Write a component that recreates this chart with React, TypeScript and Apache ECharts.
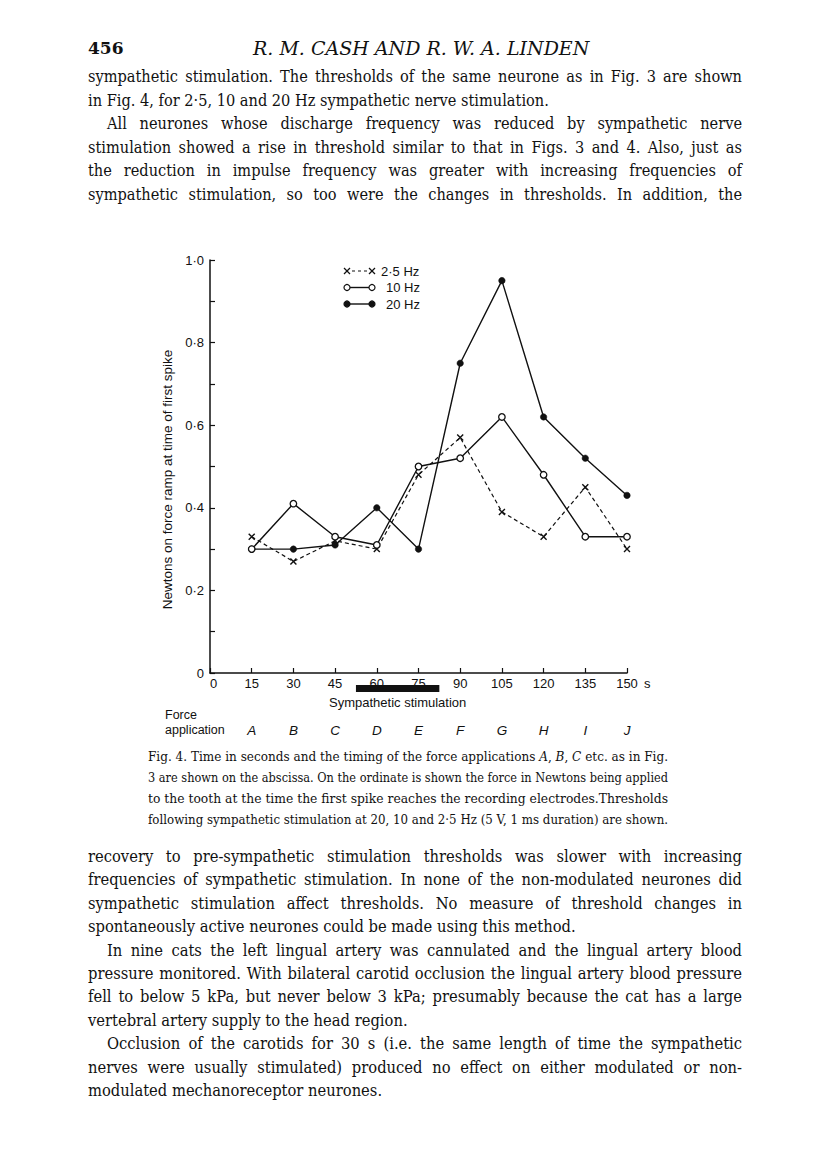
import React, { useEffect, useLayoutEffect, useRef } from 'react';
import * as echarts from 'echarts';

// ---------- chart data ----------
const timeTicks = [15, 30, 45, 60, 75, 90, 105, 120, 135, 150];
const forceApplications = ['A', 'B', 'C', 'D', 'E', 'F', 'G', 'H', 'I', 'J'];
const seriesNames = ['2·5 Hz', '10 Hz', '20 Hz'];
const thresholds2_5Hz = [0.33, 0.27, 0.32, 0.3, 0.48, 0.57, 0.39, 0.33, 0.45, 0.3];
const thresholds10Hz = [0.3, 0.41, 0.33, 0.31, 0.5, 0.52, 0.62, 0.48, 0.33, 0.33];
const thresholds20Hz = [0.3, 0.3, 0.31, 0.4, 0.3, 0.75, 0.95, 0.62, 0.52, 0.43];
const yTickValues = [0, 0.2, 0.4, 0.6, 0.8, 1.0];
const yTickLabels = ['0', '0·2', '0·4', '0·6', '0·8', '1·0'];
const stimulationPeriod = [52.5, 82.5];
const stimulationLabel = 'Sympathetic stimulation';
const yAxisTitle = 'Newtons on force ramp at time of first spike';
const xAxisUnit = 's';
const forceLabelLines = ['Force', 'application'];

// ---------- page text ----------
const pageNumber = '456';
const runningHead = 'R. M. CASH AND R. W. A. LINDEN';
const topParagraphs = [
  {
    indent: false,
    ends: true,
    lines: [
      'sympathetic stimulation. The thresholds of the same neurone as in Fig. 3 are shown',
      'in Fig. 4, for 2·5, 10 and 20 Hz sympathetic nerve stimulation.',
    ],
  },
  {
    indent: true,
    ends: false,
    lines: [
      'All neurones whose discharge frequency was reduced by sympathetic nerve',
      'stimulation showed a rise in threshold similar to that in Figs. 3 and 4. Also, just as',
      'the reduction in impulse frequency was greater with increasing frequencies of',
      'sympathetic stimulation, so too were the changes in thresholds. In addition, the',
    ],
  },
];
const captionLines = [
  'Fig. 4. Time in seconds and the timing of the force applications *A*, *B*, *C* etc. as in Fig.',
  '3 are shown on the abscissa. On the ordinate is shown the force in Newtons being applied',
  'to the tooth at the time the first spike reaches the recording electrodes.Thresholds',
  'following sympathetic stimulation at 20, 10 and 2·5 Hz (5 V, 1 ms duration) are shown.',
];
const bottomParagraphs = [
  {
    indent: false,
    ends: true,
    lines: [
      'recovery to pre-sympathetic stimulation thresholds was slower with increasing',
      'frequencies of sympathetic stimulation. In none of the non-modulated neurones did',
      'sympathetic stimulation affect thresholds. No measure of threshold changes in',
      'spontaneously active neurones could be made using this method.',
    ],
  },
  {
    indent: true,
    ends: true,
    lines: [
      'In nine cats the left lingual artery was cannulated and the lingual artery blood',
      'pressure monitored. With bilateral carotid occlusion the lingual artery blood pressure',
      'fell to below 5 kPa, but never below 3 kPa; presumably because the cat has a large',
      'vertebral artery supply to the head region.',
    ],
  },
  {
    indent: true,
    ends: true,
    lines: [
      'Occlusion of the carotids for 30 s (i.e. the same length of time the sympathetic',
      'nerves were usually stimulated) produced no effect on either modulated or non-',
      'modulated mechanoreceptor neurones.',
    ],
  },
];

const INK = '#111';
const SANS = '"Liberation Sans", Arial, Helvetica, sans-serif';
const SERIF = '"DejaVu Serif", "Liberation Serif", serif';

function renderSegments(text: string) {
  const parts = text.split('*');
  return parts.map((p, i) =>
    i % 2 === 1 ? (
      <i key={i}>{p}</i>
    ) : (
      <React.Fragment key={i}>{p}</React.Fragment>
    )
  );
}

function FitLine(props: {
  text: string;
  left: number;
  centerY: number;
  width: number;
  justify: boolean;
  fontSize: number;
  lineHeight: number;
  fontFamily?: string;
  italic?: boolean;
  bold?: boolean;
  condense?: number;
}) {
  const ref = useRef<HTMLSpanElement>(null);
  useLayoutEffect(() => {
    const el = ref.current;
    if (!el) return;
    el.style.wordSpacing = '0px';
    el.style.transform = 'none';
    const w = el.getBoundingClientRect().width;
    const spaces = ((el.textContent || '').match(/ /g) || []).length;
    const c = props.condense || 1;
    if (w * c >= props.width) {
      el.style.transform = `scaleX(${props.width / w})`;
    } else {
      el.style.transform = `scaleX(${c})`;
      if (props.justify && spaces > 0) {
        el.style.wordSpacing = `${(props.width - w * c) / (c * spaces)}px`;
      }
    }
  }, [props.text, props.width, props.justify]);
  return (
    <div
      style={{
        position: 'absolute',
        left: props.left,
        top: props.centerY - props.lineHeight / 2,
        width: props.width,
        height: props.lineHeight,
        lineHeight: `${props.lineHeight}px`,
        whiteSpace: 'nowrap',
        fontFamily: props.fontFamily || SERIF,
        fontSize: props.fontSize,
        fontStyle: props.italic ? 'italic' : 'normal',
        fontWeight: props.bold ? 'bold' : 'normal',
        color: INK,
      }}
    >
      <span ref={ref} style={{ display: 'inline-block', transformOrigin: '0 50%' }}>
        {renderSegments(props.text)}
      </span>
    </div>
  );
}

function TextBlock(props: {
  paragraphs: { indent: boolean; ends: boolean; lines: string[] }[];
  left: number;
  width: number;
  firstY: number;
  step: number;
  fontSize: number;
  indent: number;
  condense: number;
}) {
  const out: React.ReactNode[] = [];
  let k = 0;
  props.paragraphs.forEach((para, pi) => {
    para.lines.forEach((line, li) => {
      const isFirst = li === 0;
      const isLast = li === para.lines.length - 1;
      const ind = isFirst && para.indent ? props.indent : 0;
      out.push(
        <FitLine
          key={`${pi}-${li}`}
          text={line}
          left={props.left + ind}
          centerY={props.firstY + k * props.step}
          width={props.width - ind}
          justify={!(isLast && para.ends)}
          fontSize={props.fontSize}
          lineHeight={22}
          condense={props.condense}
        />
      );
      k++;
    });
  });
  return <>{out}</>;
}

function buildOption(): any {
  const crossSymbol = 'path://M0,0L10,10M10,0L0,10';
  const legendGraphics: any[] = [];
  seriesNames.forEach((name, i) => {
    const y = 271 + i * 16.5;
    const x1 = 347;
    const x2 = 372;
    if (i === 0) {
      legendGraphics.push({
        type: 'line',
        shape: { x1: x1 + 5, y1: y, x2: x2 - 5, y2: y },
        style: { stroke: INK, lineWidth: 1.2, lineDash: [3, 3] },
      });
      [x1, x2].forEach((cx) => {
        legendGraphics.push({
          type: 'line',
          shape: { x1: cx - 3, y1: y - 3, x2: cx + 3, y2: y + 3 },
          style: { stroke: INK, lineWidth: 1.3 },
        });
        legendGraphics.push({
          type: 'line',
          shape: { x1: cx - 3, y1: y + 3, x2: cx + 3, y2: y - 3 },
          style: { stroke: INK, lineWidth: 1.3 },
        });
      });
    } else {
      legendGraphics.push({
        type: 'line',
        shape: { x1, y1: y, x2, y2: y },
        style: { stroke: INK, lineWidth: 1.4 },
      });
      [x1, x2].forEach((cx) => {
        legendGraphics.push({
          type: 'circle',
          shape: { cx, cy: y, r: 3 },
          style: { fill: i === 1 ? '#fff' : INK, stroke: INK, lineWidth: 1.2 },
        });
      });
    }
    legendGraphics.push({
      type: 'text',
      x: i === 0 ? 381 : 386,
      y,
      style: {
        text: name,
        fill: INK,
        fontFamily: SANS,
        fontSize: 13,
        align: 'left',
        verticalAlign: 'middle',
      },
    });
  });

  const forceGraphics = forceLabelLines.map((t, i) => ({
    type: 'text',
    x: 165,
    y: 715 + i * 14.5,
    style: {
      text: t,
      fill: INK,
      fontFamily: SANS,
      fontSize: 12.5,
      align: 'left',
      verticalAlign: 'middle',
    },
  }));

  const toPairs = (vals: number[]) => timeTicks.map((t, i) => [t, vals[i]]);

  return {
    animation: false,
    backgroundColor: 'transparent',
    textStyle: { fontFamily: SANS, color: INK },
    grid: { left: 210, top: 260, width: 417, height: 413, containLabel: false },
    xAxis: [
      {
        type: 'value',
        min: 0,
        max: 150,
        interval: 15,
        position: 'bottom',
        axisLine: { show: true, lineStyle: { color: INK, width: 1.5 } },
        axisTick: { show: true, inside: true, length: 5, lineStyle: { color: INK, width: 1.2 } },
        axisLabel: {
          color: INK,
          fontFamily: SANS,
          fontSize: 13,
          margin: 4,
          alignMinLabel: 'left',
        },
        splitLine: { show: false },
        name: xAxisUnit,
        nameLocation: 'end',
        nameGap: 17,
        nameTextStyle: {
          color: INK,
          fontFamily: SANS,
          fontSize: 13,
          verticalAlign: 'top',
          padding: [4, 0, 0, 0],
        },
      },
      {
        type: 'value',
        min: 0,
        max: 150,
        interval: 15,
        position: 'bottom',
        offset: 44,
        axisLine: { show: false },
        axisTick: { show: false },
        splitLine: { show: false },
        axisLabel: {
          color: INK,
          fontFamily: SANS,
          fontSize: 13.5,
          fontStyle: 'italic',
          margin: 6,
          formatter: (v: number) => {
            const i = timeTicks.indexOf(Math.round(v));
            return i >= 0 ? forceApplications[i] : '';
          },
        },
      },
    ],
    yAxis: {
      type: 'value',
      min: 0,
      max: 1,
      interval: 0.1,
      axisLine: { show: true, lineStyle: { color: INK, width: 1.5 } },
      axisTick: { show: true, inside: true, length: 5, lineStyle: { color: INK, width: 1.2 } },
      axisLabel: {
        color: INK,
        fontFamily: SANS,
        fontSize: 13,
        margin: 6,
        formatter: (v: number) => {
          const i = yTickValues.findIndex((t) => Math.abs(t - v) < 1e-6);
          return i >= 0 ? yTickLabels[i] : '';
        },
      },
      splitLine: { show: false },
      name: yAxisTitle,
      nameLocation: 'middle',
      nameRotate: 90,
      nameGap: 30,
      nameTextStyle: {
        color: INK,
        fontFamily: SANS,
        fontSize: 13.5,
        padding: [0, 26, 0, 0],
      },
    },
    graphic: [...legendGraphics, ...forceGraphics],
    series: [
      {
        name: seriesNames[0],
        type: 'line',
        data: toPairs(thresholds2_5Hz),
        symbol: crossSymbol,
        symbolSize: 6,
        showAllSymbol: true,
        lineStyle: { color: INK, width: 1.2, type: [4, 3] },
        itemStyle: { color: 'rgba(0,0,0,0)', borderColor: INK, borderWidth: 1.4 },
        z: 3,
      },
      {
        name: seriesNames[2],
        type: 'line',
        data: toPairs(thresholds20Hz),
        symbol: 'circle',
        symbolSize: 6.5,
        showAllSymbol: true,
        lineStyle: { color: INK, width: 1.4 },
        itemStyle: { color: INK, borderColor: INK, borderWidth: 0.5 },
        z: 4,
      },
      {
        name: seriesNames[1],
        type: 'line',
        data: toPairs(thresholds10Hz),
        symbol: 'circle',
        symbolSize: 6.5,
        showAllSymbol: true,
        lineStyle: { color: INK, width: 1.4 },
        itemStyle: { color: '#fff', borderColor: INK, borderWidth: 1.3 },
        z: 5,
      },
      {
        name: stimulationLabel,
        type: 'custom',
        silent: true,
        clip: false,
        z: 10,
        data: [stimulationPeriod],
        encode: { x: [0, 1] },
        renderItem: (params: any, api: any) => {
          const s = api.coord([api.value(0), 0]);
          const e = api.coord([api.value(1), 0]);
          return {
            type: 'group',
            children: [
              {
                type: 'rect',
                shape: { x: s[0], y: s[1] + 12, width: e[0] - s[0], height: 7 },
                style: { fill: INK },
              },
              {
                type: 'text',
                x: (s[0] + e[0]) / 2,
                y: s[1] + 29,
                style: {
                  text: stimulationLabel,
                  fill: INK,
                  fontFamily: SANS,
                  fontSize: 13,
                  align: 'center',
                  verticalAlign: 'middle',
                },
              },
            ],
          };
        },
      },
    ],
  };
}

export default function App() {
  const chartRef = useRef<HTMLDivElement>(null);

  useEffect(() => {
    if (!chartRef.current) return;
    const chart = echarts.init(chartRef.current, null, { renderer: 'svg' });
    chart.setOption(buildOption());
    return () => chart.dispose();
  }, []);

  return (
    <div style={{ position: 'absolute', left: 0, top: 0, width: 816, height: 1160, background: '#fff', overflow: 'hidden' }}>
      <div ref={chartRef} style={{ position: 'absolute', left: 0, top: 0, width: 816, height: 1160 }} />
      <FitLine text={pageNumber} left={88} centerY={48} width={60} justify={false} fontSize={17} lineHeight={22} bold />
      <FitLine text={runningHead} left={253} centerY={48} width={367} justify={false} fontSize={19} lineHeight={22} italic />
      <TextBlock paragraphs={topParagraphs} left={88} width={654} firstY={77} step={23.5} fontSize={16} indent={19} condense={0.91} />
      {captionLines.map((line, i) => (
        <FitLine
          key={i}
          text={line}
          left={148}
          centerY={757 + i * 21}
          width={520}
          justify={true}
          fontSize={12.5}
          lineHeight={20}
        />
      ))}
      <TextBlock paragraphs={bottomParagraphs} left={88} width={654} firstY={857} step={23.4} fontSize={16} indent={19} condense={0.92} />
    </div>
  );
}
